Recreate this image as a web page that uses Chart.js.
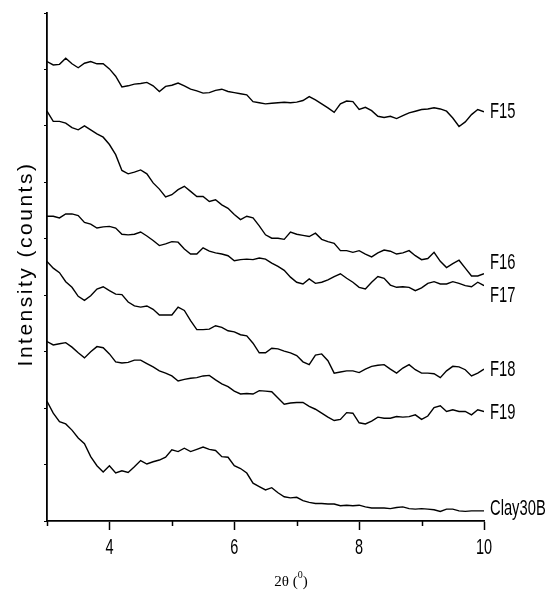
<!DOCTYPE html>
<html>
<head>
<meta charset="utf-8">
<script src="https://cdn.jsdelivr.net/npm/chart.js@4"></script>
<style>
html,body{margin:0;padding:0;background:#fff;}
#wrap{width:547px;height:599px;position:relative;}
</style>
</head>
<body>
<div id="wrap"><canvas id="c" width="547" height="599"></canvas></div>
<script>
const xValues = [3.0,3.1,3.2,3.3,3.4,3.5,3.6,3.7,3.8,3.9,
4.0,4.1,4.2,4.3,4.4,4.5,4.6,4.7,4.8,4.9,
5.0,5.1,5.2,5.3,5.4,5.5,5.6,5.7,5.8,5.9,
6.0,6.1,6.2,6.3,6.4,6.5,6.6,6.7,6.8,6.9,
7.0,7.1,7.2,7.3,7.4,7.5,7.6,7.7,7.8,7.9,
8.0,8.1,8.2,8.3,8.4,8.5,8.6,8.7,8.8,8.9,
9.0,9.1,9.2,9.3,9.4,9.5,9.6,9.7,9.8,9.9,10.0];

const seriesNames = ["F15","F16","F17","F18","F19","Clay30B"];

const F15 = [814,808,809,820,810,803,811,814,810,810,
801,788,769,771,774,775,777,771,761,770,
772,776,771,765,762,758,759,763,765,761,
759,757,755,743,741,739,740,741,742,741,
742,745,752,746,739,732,724,739,744,743,
729,733,727,717,715,717,713,718,723,726,
729,730,732,730,726,714,699,707,720,729,725];

const F16 = [726,708,708,705,697,693,700,693,686,680,
667,649,621,615,618,622,615,599,588,574,
578,587,593,584,575,575,566,569,560,554,
543,534,540,537,523,507,501,501,499,512,
508,506,504,510,499,495,492,479,479,476,
479,473,468,475,480,478,473,475,479,470,
463,465,476,460,449,456,462,448,434,434,438];

const F17 = [540,540,537,544,544,541,529,526,519,521,
522,519,508,507,508,512,505,497,488,491,
495,494,482,473,473,484,478,475,473,470,
461,463,464,463,466,464,457,451,444,432,
423,420,429,421,423,427,433,438,430,423,
414,411,423,433,430,418,414,415,414,408,
413,421,424,420,420,424,421,417,415,423,417];

const F18 = [460,448,440,424,414,398,391,399,411,415,
408,402,401,388,381,379,381,375,365,365,
365,379,373,355,339,339,340,346,343,337,
335,330,328,315,298,298,306,305,301,298,
293,282,277,294,296,284,262,264,266,266,
263,269,274,276,277,269,262,271,277,268,
262,262,261,254,266,274,273,268,257,262,269];

const F19 = [318,312,314,316,308,298,289,300,309,307,
296,282,280,281,285,285,279,273,266,262,
257,248,251,253,254,257,258,250,243,238,
230,225,226,225,231,230,229,218,207,209,
210,210,203,198,191,184,178,180,192,191,
174,172,177,184,182,182,185,184,185,188,
180,186,201,204,194,197,194,194,188,197,194];

const Clay30B = [212,191,176,172,161,147,137,114,98,87,
98,85,89,86,96,107,101,105,108,113,
126,123,129,123,127,131,127,125,114,113,
98,93,85,67,61,55,59,50,43,41,
42,36,33,31,31,30,30,27,28,27,
28,25,23,23,23,22,24,25,22,21,
22,21,20,17,21,21,18,17,18,18,18];

const labelY = [725, 457, 399, 268, 191, 21];

const xMajorTicks = [4,6,8,10];
const xTickLabels = ["4","6","8","10"];
const xMinorTicks = [3,5,7,9];
const xTitle = "2θ (";
const xTitleSup = "0";
const xTitleEnd = ")";
const yTitle = "Intensity (counts)";

const allSeries = [F15, F16, F17, F18, F19, Clay30B];

const sans = "'Liberation Sans', Arial, sans-serif";

function narrowText(ctx, txt, x, y, align, sx) {
  ctx.save();
  ctx.translate(x, y);
  ctx.scale(sx, 1);
  ctx.textAlign = align;
  ctx.fillText(txt, 0, 0);
  ctx.restore();
}

const textPlugin = {
  id: 'texts',
  afterDraw(chart) {
    const ctx = chart.ctx;
    const xs = chart.scales.x, ys = chart.scales.y;
    ctx.save();
    // minor x ticks
    ctx.strokeStyle = '#000';
    ctx.lineWidth = 1.5;
    xMinorTicks.forEach(v => {
      const px = Math.round(xs.getPixelForValue(v)) + 0.5;
      ctx.beginPath();
      ctx.moveTo(px, ys.bottom);
      ctx.lineTo(px, ys.bottom + 5);
      ctx.stroke();
    });
    ctx.fillStyle = '#000';
    ctx.textBaseline = 'middle';
    ctx.font = "22px " + sans;
    // x tick labels
    xMajorTicks.forEach((v, i) => {
      narrowText(ctx, xTickLabels[i], xs.getPixelForValue(v), 548, 'center', 0.66);
    });
    // series labels
    const xEnd = xs.getPixelForValue(xValues[xValues.length - 1]);
    seriesNames.forEach((n, i) => {
      narrowText(ctx, n, xEnd + 6, ys.getPixelForValue(labelY[i]), 'left', 0.67);
    });
    // y title
    ctx.save();
    ctx.translate(26, 264);
    ctx.rotate(-Math.PI / 2);
    ctx.font = "21px " + sans;
    try { ctx.letterSpacing = '2.5px'; } catch (e) {}
    ctx.textAlign = 'center';
    ctx.textBaseline = 'middle';
    ctx.fillText(yTitle, 0, 0);
    ctx.restore();
    // x title
    ctx.save();
    ctx.font = "15px 'Liberation Serif', 'Times New Roman', serif";
    ctx.textBaseline = 'alphabetic';
    ctx.textAlign = 'left';
    const w1 = ctx.measureText(xTitle).width;
    ctx.font = "10px 'Liberation Serif', serif";
    const w2 = ctx.measureText(xTitleSup).width;
    ctx.font = "15px 'Liberation Serif', serif";
    const w3 = ctx.measureText(xTitleEnd).width;
    const total = w1 + w2 + w3;
    let x0 = 291 - total / 2;
    const base = 586;
    ctx.fillText(xTitle, x0, base);
    ctx.font = "10px 'Liberation Serif', serif";
    ctx.fillText(xTitleSup, x0 + w1, base - 8);
    ctx.font = "15px 'Liberation Serif', serif";
    ctx.fillText(xTitleEnd, x0 + w1 + w2, base);
    ctx.restore();
    ctx.restore();
  }
};

const datasets = allSeries.map((s, i) => ({
  label: seriesNames[i],
  data: s.map((v, j) => ({x: xValues[j], y: v})),
  borderColor: '#000',
  borderWidth: 1.4,
  pointRadius: 0,
  fill: false,
  tension: 0
}));

new Chart(document.getElementById('c'), {
  type: 'line',
  data: { datasets },
  options: {
    responsive: false,
    animation: false,
    layout: { padding: { left: 0, top: 13, right: 63, bottom: 0 } },
    plugins: { legend: { display: false }, tooltip: { enabled: false } },
    scales: {
      x: {
        type: 'linear',
        min: 3, max: 10,
        afterFit: s => { s.height = 78; },
        border: { display: true, color: '#000', width: 1.8 },
        grid: {
          display: true,
          drawOnChartArea: false,
          drawTicks: true,
          tickLength: 9,
          tickWidth: 1.5,
          color: c => (c.tick && xMajorTicks.includes(c.tick.value)) ? '#000' : 'rgba(0,0,0,0)'
        },
        ticks: {
          stepSize: 1,
          autoSkip: false,
          maxRotation: 0,
          callback: () => ''
        }
      },
      y: {
        min: 0, max: 900,
        afterFit: s => { s.width = 47; },
        border: { display: true, color: '#000', width: 1.8 },
        grid: {
          display: true,
          drawOnChartArea: false,
          drawTicks: true,
          tickLength: 3,
          tickWidth: 1.2,
          color: '#000'
        },
        ticks: {
          stepSize: 100,
          callback: () => ''
        }
      }
    }
  },
  plugins: [textPlugin]
});
</script>
</body>
</html>
